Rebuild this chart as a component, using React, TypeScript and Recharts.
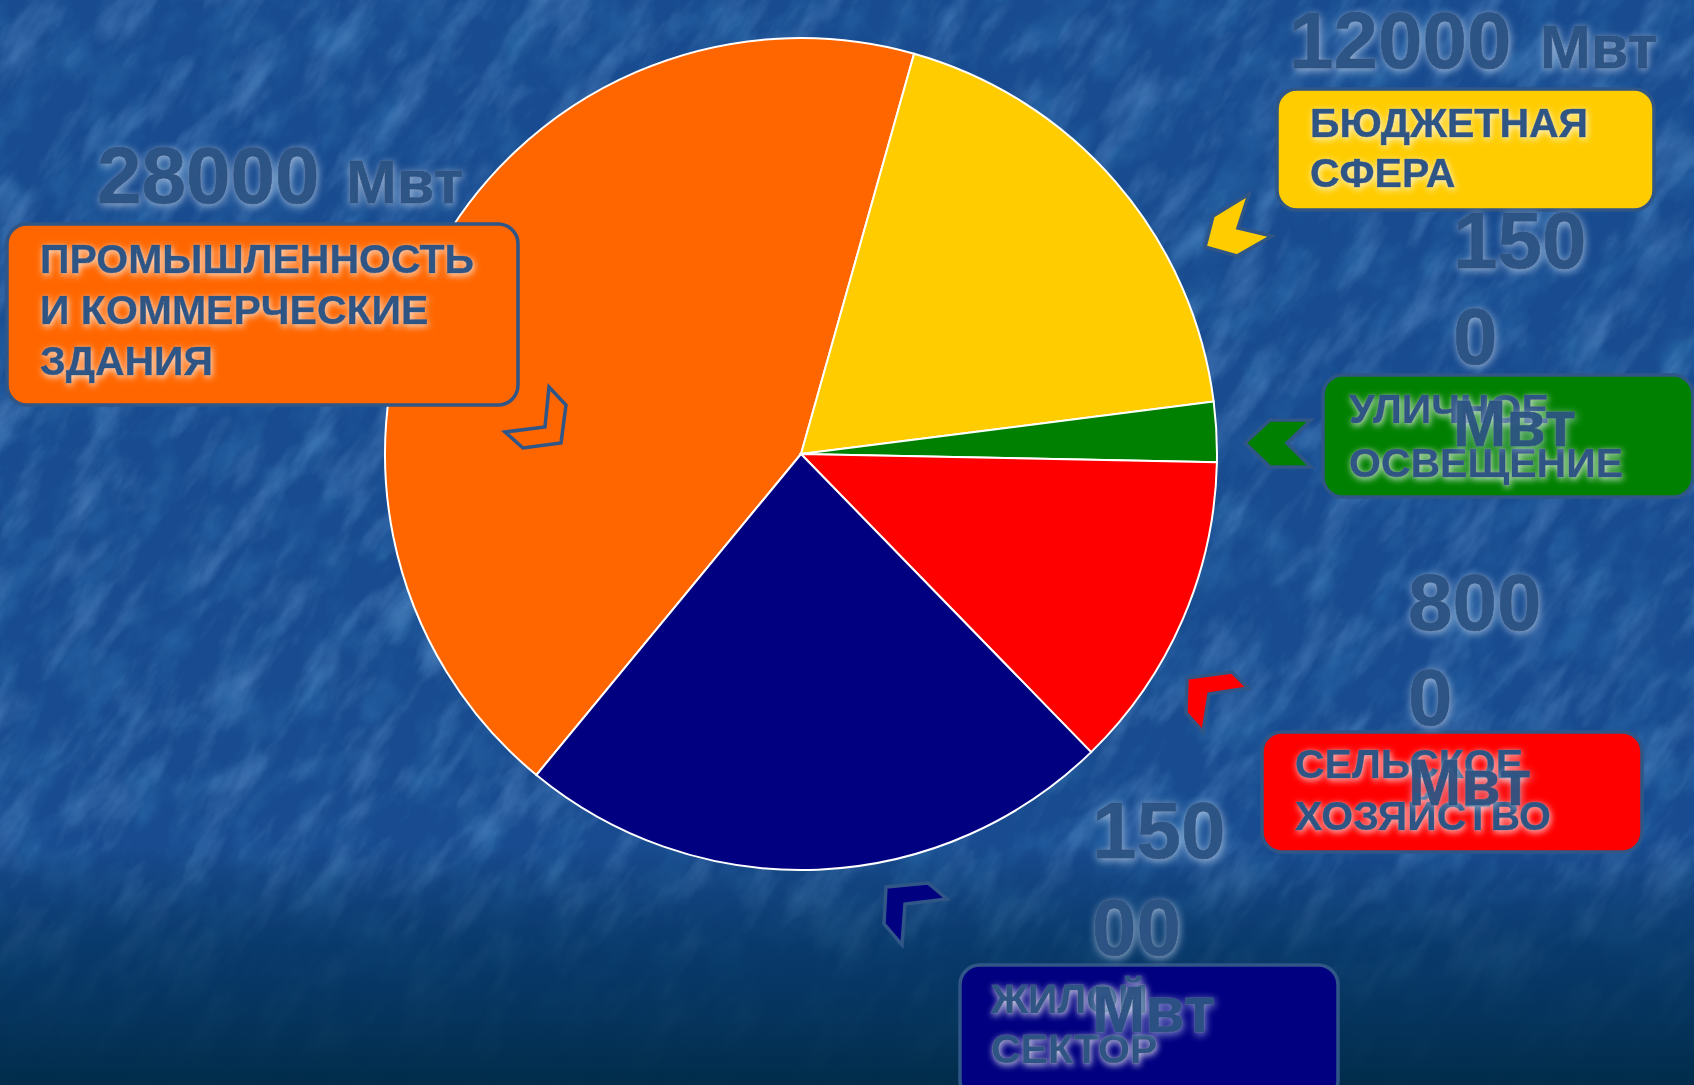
import React from "react";
import { PieChart, Pie, Cell } from "recharts";

// sectors of the pie, in clockwise order starting from the orange one
const categories = [
    "ПРОМЫШЛЕННОСТЬ И КОММЕРЧЕСКИЕ ЗДАНИЯ",
    "БЮДЖЕТНАЯ СФЕРА",
    "УЛИЧНОЕ ОСВЕЩЕНИЕ",
    "СЕЛЬСКОЕ ХОЗЯЙСТВО",
    "ЖИЛОЙ СЕКТОР",
];
const values = [28000, 12000, 1500, 8000, 15000];
const colors = ["#ff6600", "#ffcc00", "#008000", "#ff0000", "#000080"];
const labelLines = [
    ["ПРОМЫШЛЕННОСТЬ", "И КОММЕРЧЕСКИЕ", "ЗДАНИЯ"],
    ["БЮДЖЕТНАЯ", "СФЕРА"],
    ["УЛИЧНОЕ", "ОСВЕЩЕНИЕ"],
    ["СЕЛЬСКОЕ", "ХОЗЯЙСТВО"],
    ["ЖИЛОЙ", "СЕКТОР"],
];
const unit = "Мвт";

const data = categories.map((name, i) => ({ name, value: values[i] }));

const W = 1694;
const H = 1085;
const TEXT = "#2d5484";
const EDGE = "#2f5686";
const FONT = "'Liberation Sans', Arial, sans-serif";

// callout boxes
const boxes = [
    { x: 7, y: 224, w: 511, h: 181, tx: 40, base: [273, 324, 375] },
    { x: 1277, y: 89, w: 377, h: 121, tx: 1310, base: [137, 187] },
    { x: 1323, y: 375, w: 370, h: 122, tx: 1349, base: [423, 477] },
    { x: 1262, y: 732, w: 380, h: 120, tx: 1295, base: [778, 830] },
    { x: 960, y: 965, w: 378, h: 135, tx: 991, base: [1013, 1063] },
];

// chevron arrows next to the boxes
const chevrons = [
    "549,387 566,405 561,443 523,448 505,432 545,427",
    "1213,216 1249,194 1238,228 1272,236 1237,256 1205,247",
    "1245,443 1270,420 1311,420 1287,443 1311,467 1270,467",
    "1187,678 1232,672 1248,688 1209,694 1203,732 1186,713",
    "886,887 928,883 947,899 905,904 902,945 884,924",
];

// value captions: inline ones sit on one line, the others wrap into three lines
const valueLayout = [
    { kind: "inline", x: 97, ux: 346, base: 203 },
    { kind: "inline", x: 1289, ux: 1540, base: 68 },
    { kind: "stack", x: 1453, base: [268, 364, 446] },
    { kind: "stack", x: 1408, base: [630, 725, 805] },
    { kind: "stack", x: 1092, base: [858, 955, 1032] },
];

function Background() {
    return (
        <svg width={W} height={H} style={{ position: "absolute", left: 0, top: 0 }}>
            <defs>
                <filter id="tex" x="0" y="0" width="1" height="1">
                    <feTurbulence type="fractalNoise" baseFrequency="0.012 0.035" numOctaves="5" seed="7" />
                    <feColorMatrix
                        type="matrix"
                        values="0 0 0 0 0.22  0 0 0 0 0.45  0 0 0 0 0.80  0 0 0 2.0 -0.95"
                    />
                </filter>
                <filter id="tex2" x="0" y="0" width="1" height="1">
                    <feTurbulence type="fractalNoise" baseFrequency="0.018 0.03" numOctaves="4" seed="21" />
                    <feColorMatrix
                        type="matrix"
                        values="0 0 0 0 0.03  0 0 0 0 0.18  0 0 0 0 0.45  0 0 0 2.0 -0.85"
                    />
                </filter>
                <linearGradient id="fade" x1="0" y1="0" x2="0" y2="1">
                    <stop offset="0.78" stopColor="#00294a" stopOpacity={0} />
                    <stop offset="0.88" stopColor="#01315a" stopOpacity={0.7} />
                    <stop offset="1" stopColor="#012c4a" stopOpacity={1} />
                </linearGradient>
            </defs>
            <rect width={W} height={H} fill="#184b8f" />
            <g transform={`rotate(-55 ${W / 2} ${H / 2})`}>
                <rect x={W / 2 - 1050} y={H / 2 - 1050} width={2100} height={2100} filter="url(#tex2)" opacity={0.55} />
                <rect x={W / 2 - 1050} y={H / 2 - 1050} width={2100} height={2100} filter="url(#tex)" opacity={0.4} />
            </g>
            <rect width={W} height={H} fill="url(#fade)" />
        </svg>
    );
}

function Overlay() {
    return (
        <svg width={W} height={H} style={{ position: "absolute", left: 0, top: 0 }}>
            <defs>
                <filter id="glow" x="-10%" y="-40%" width="120%" height="180%">
                    <feGaussianBlur in="SourceAlpha" stdDeviation="3.5" result="b" />
                    <feOffset in="b" dx="1" dy="2" result="ob" />
                    <feFlood floodColor="#ffffff" floodOpacity="0.85" />
                    <feComposite in2="ob" operator="in" result="g" />
                    <feMerge>
                        <feMergeNode in="g" />
                        <feMergeNode in="SourceGraphic" />
                    </feMerge>
                </filter>
                <filter id="glowSoft" x="-10%" y="-40%" width="120%" height="180%">
                    <feGaussianBlur in="SourceAlpha" stdDeviation="4" result="b" />
                    <feOffset in="b" dx="1" dy="2" result="ob" />
                    <feFlood floodColor="#d6e6f8" floodOpacity="0.7" />
                    <feComposite in2="ob" operator="in" result="g" />
                    <feMerge>
                        <feMergeNode in="g" />
                        <feMergeNode in="SourceGraphic" />
                    </feMerge>
                </filter>
            </defs>

            {chevrons.map((pts, i) => (
                <polygon key={"c" + i} points={pts} fill={colors[i]} stroke={EDGE} strokeWidth={3.5} strokeLinejoin="miter" />
            ))}

            {boxes.map((b, i) => (
                <g key={"b" + i}>
                    <rect x={b.x} y={b.y} width={b.w} height={b.h} rx={20} fill={colors[i]} stroke={EDGE} strokeWidth={3.5} />
                    {labelLines[i].map((line, j) => (
                        <text
                            key={j}
                            x={b.tx}
                            y={b.base[j]}
                            fontFamily={FONT}
                            fontWeight="bold"
                            fontSize={41}
                            fill={TEXT}
                            stroke={TEXT}
                            strokeWidth={0.6}
                            filter="url(#glow)"
                        >
                            {line}
                        </text>
                    ))}
                </g>
            ))}

            {valueLayout.map((v, i) => {
                const num = String(values[i]);
                if (v.kind === "inline") {
                    return (
                        <g key={"v" + i} filter="url(#glowSoft)" fill={TEXT} stroke={TEXT} strokeWidth={0.8} fontFamily={FONT} fontWeight="bold" opacity={0.95}>
                            <text x={v.x} y={v.base} fontSize={80}>{num}</text>
                            <text x={v.ux} y={v.base} fontSize={61}>{unit}</text>
                        </g>
                    );
                }
                const parts = [num.slice(0, 3), num.slice(3), unit];
                return (
                    <g key={"v" + i} filter="url(#glowSoft)" fill={TEXT} stroke={TEXT} strokeWidth={0.8} fontFamily={FONT} fontWeight="bold" opacity={0.95}>
                        {parts.map((p, j) => (
                            <text key={j} x={v.x} y={v.base[j]} fontSize={j < 2 ? 80 : 64}>
                                {p}
                            </text>
                        ))}
                    </g>
                );
            })}
        </svg>
    );
}

export default function App() {
    return (
        <div
            style={{
                position: "absolute",
                left: 0,
                top: 0,
                width: W,
                height: H,
                overflow: "hidden",
            }}
        >
            <Background />
            <div style={{ position: "absolute", left: 0, top: 0 }}>
                <PieChart width={W} height={H} margin={{ top: 0, right: 0, bottom: 0, left: 0 }}>
                    <Pie
                        data={data}
                        dataKey="value"
                        nameKey="name"
                        cx={801}
                        cy={454}
                        outerRadius={416}
                        startAngle={230.5}
                        endAngle={-129.5}
                        stroke="#ffffff"
                        strokeWidth={2}
                        label={false}
                        labelLine={false}
                        isAnimationActive={false}
                    >
                        {data.map((d, i) => (
                            <Cell key={d.name} fill={colors[i]} />
                        ))}
                    </Pie>
                </PieChart>
            </div>
            <Overlay />
        </div>
    );
}
